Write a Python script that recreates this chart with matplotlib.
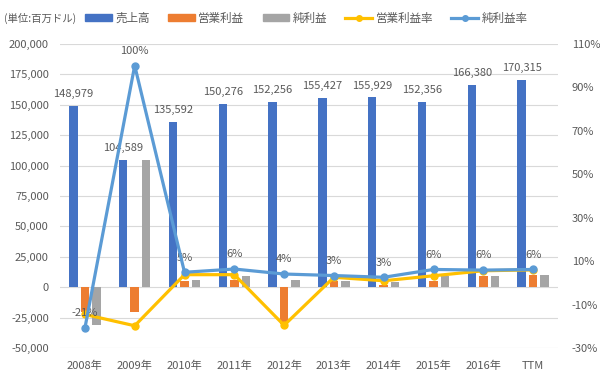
import numpy as np
import matplotlib
matplotlib.use('Agg')
import matplotlib.pyplot as plt
import matplotlib.ticker as mticker
from matplotlib.patches import Patch
from matplotlib.lines import Line2D

plt.rcParams['font.family'] = ['Noto Sans CJK JP', 'DejaVu Sans']

years = ['2008年', '2009年', '2010年', '2011年', '2012年',
         '2013年', '2014年', '2015年', '2016年', 'TTM']
revenue = [148979, 104589, 135592, 150276, 152256,
           155427, 155929, 152356, 166380, 170315]
op_income = [-20000, -20700, 5000, 6000, -30000, 5000, 2000, 5000, 9000, 10000]
net_income = [-31000, 104500, 6000, 9000, 6000, 5000, 4500, 9000, 9000, 10000]
op_margin = [-14.5, -19.7, 3.8, 3.8, -19.5, 2.6, 1.0, 3.3, 5.6, 6.0]
net_margin = [-20.8, 100.0, 4.9, 6.4, 4.1, 3.4, 2.6, 6.2, 5.9, 6.2]

c_rev = '#4472C4'
c_op = '#ED7D31'
c_net = '#A5A5A5'
c_opm = '#FFC000'
c_netm = '#5B9BD5'
txt = '#595959'

fig = plt.figure(figsize=(6, 3.78), dpi=100)
ax = fig.add_axes([0.1, 0.079, 0.83, 0.805])
ax2 = ax.twinx()

x = np.arange(len(years))
w = 0.17
off = 0.23
ax.bar(x - off, revenue, w, color=c_rev, zorder=2)
ax.bar(x, op_income, w, color=c_op, zorder=2)
ax.bar(x + off, net_income, w, color=c_net, zorder=2)

for xi, v in zip(x, revenue):
    ax.annotate(f'{v:,}', (xi - off, v), xytext=(0, 5), textcoords='offset points',
                ha='center', va='bottom', fontsize=8, color=txt)

ax.set_xlim(-0.5, len(years) - 0.5)
ax.set_ylim(-50000, 200000)
ax.set_yticks(np.arange(-50000, 200001, 25000))
ax.yaxis.set_major_formatter(mticker.FuncFormatter(lambda v, p: f'{int(v):,}'))
ax.set_xticks(x)
ax.set_xticklabels(years)
ax.grid(axis='y', color='#D9D9D9', lw=0.8, zorder=0)
ax.set_axisbelow(True)

ax2.plot(x, op_margin, color=c_opm, lw=2.3, marker='o', ms=5, zorder=3)
ax2.plot(x, net_margin, color=c_netm, lw=2.3, marker='o', ms=5, zorder=4)
for xi, v in zip(x, net_margin):
    ax2.annotate(f'{round(v):.0f}%', (xi, v), xytext=(0, 7), textcoords='offset points',
                 ha='center', va='bottom', fontsize=8, color=txt)
ax2.set_ylim(-30, 110)
ax2.set_yticks(np.arange(-30, 111, 20))
ax2.yaxis.set_major_formatter(mticker.FuncFormatter(lambda v, p: f'{int(v)}%'))

for a in (ax, ax2):
    for s in a.spines.values():
        s.set_visible(False)
    a.tick_params(length=0, labelsize=8, labelcolor=txt)
ax.tick_params(axis='y', pad=8)
ax.tick_params(axis='x', pad=9)
ax2.tick_params(axis='y', pad=10)

handles = [
    Patch(color=c_rev, label='売上高'),
    Patch(color=c_op, label='営業利益'),
    Patch(color=c_net, label='純利益'),
    Line2D([], [], color=c_opm, lw=2.3, marker='o', ms=4, label='営業利益率'),
    Line2D([], [], color=c_netm, lw=2.3, marker='o', ms=4, label='純利益率'),
]
fig.text(0.007, 0.952, '(単位:百万ドル)', fontsize=7.5, color=txt, va='center', ha='left')
leg = fig.legend(handles=handles, loc='center left', bbox_to_anchor=(0.142, 0.952),
                 ncol=5, frameon=False, fontsize=8.3, handlelength=2.3, handleheight=0.6,
                 handletextpad=0.3, columnspacing=1.6, borderaxespad=0, borderpad=0)
for t in leg.get_texts():
    t.set_color(txt)

fig.savefig('out.png', dpi=100)
